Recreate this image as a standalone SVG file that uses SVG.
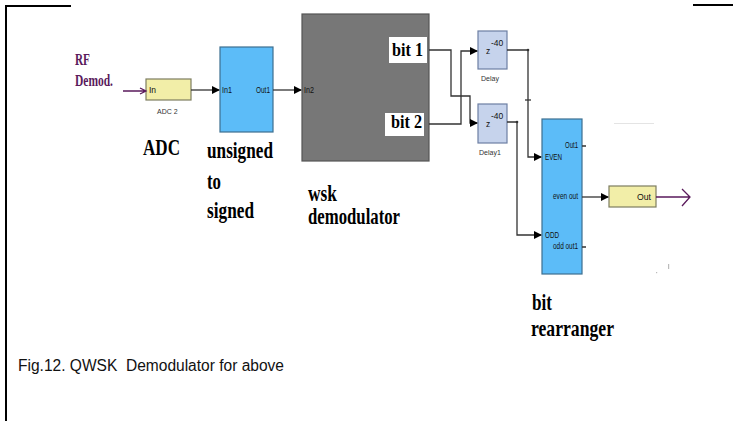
<svg xmlns="http://www.w3.org/2000/svg" width="733" height="421" viewBox="0 0 733 421">
<style>
.bd{fill:none;stroke:#000;stroke-width:2}
.w{fill:none;stroke:#333;stroke-width:1.3}
.p{fill:none;stroke:#5a1a5c;stroke-width:1.3}
.blue{fill:#5cbcf8;stroke:#3d6f90;stroke-width:1.2}
.yel{fill:#f2eea8;stroke:#7d7d60;stroke-width:1.2}
.dly{fill:#c6d3ec;stroke:#6d7fa3;stroke-width:1.2}
.sm{font-family:"Liberation Sans",Arial,sans-serif;font-size:8.5px;fill:#111}
.gl{font-family:"Liberation Sans",Arial,sans-serif;font-size:7px;fill:#333}
.lbl{font-family:"Liberation Serif","Times New Roman",serif;font-weight:bold;font-size:23px;fill:#000}
.bit{font-family:"Liberation Serif","Times New Roman",serif;font-weight:bold;font-size:18px;fill:#000}
.rf{font-family:"Liberation Serif","Times New Roman",serif;font-weight:bold;font-size:17px;fill:#5a1a5c}
.cap{font-family:"Liberation Sans",Arial,sans-serif;font-size:16px;fill:#111;white-space:pre}
</style>
<defs>
<marker id="ah" markerWidth="8" markerHeight="8" refX="7" refY="4" orient="auto" markerUnits="userSpaceOnUse">
<path d="M0,0 L8,4 L0,8 Z" fill="#000"/>
</marker>
</defs>
<rect width="733" height="421" fill="#fff"/>
<g id="border">
<path class="bd" d="M71,6 H6 V421"/>
<path class="bd" d="M693,5 H733"/>
</g>
<g id="rf-label">
<text class="rf" x="75" y="65" textLength="15" lengthAdjust="spacingAndGlyphs">RF</text>
<text class="rf" x="75" y="86" textLength="38" lengthAdjust="spacingAndGlyphs">Demod.</text>
</g>
<g id="adc">
<rect class="yel" x="146" y="79" width="45" height="21"/>
<text class="sm" x="149" y="93">In</text>
<text class="gl" x="157" y="114">ADC 2</text>
<text class="lbl" x="143" y="155" textLength="37" lengthAdjust="spacingAndGlyphs">ADC</text>
</g>
<g id="unsigned">
<rect class="blue" x="220" y="47" width="53" height="85"/>
<text class="sm" x="222" y="93" textLength="10" lengthAdjust="spacingAndGlyphs">In1</text>
<text class="sm" x="270" y="93" text-anchor="end" textLength="14" lengthAdjust="spacingAndGlyphs">Out1</text>
<text class="lbl" x="207" y="158" textLength="66" lengthAdjust="spacingAndGlyphs">unsigned</text>
<text class="lbl" x="207" y="189" textLength="14" lengthAdjust="spacingAndGlyphs">to</text>
<text class="lbl" x="207" y="218" textLength="47" lengthAdjust="spacingAndGlyphs">signed</text>
</g>
<g id="wsk">
<rect x="302" y="14" width="127" height="147" fill="#777" stroke="#555" stroke-width="1.2"/>
<text class="sm" x="304" y="93" textLength="10" lengthAdjust="spacingAndGlyphs">In2</text>
<rect x="389" y="37" width="38" height="26" fill="#fff"/>
<text class="bit" x="392" y="56" textLength="31" lengthAdjust="spacingAndGlyphs">bit 1</text>
<rect x="385" y="113" width="39" height="23" fill="#fff"/>
<text class="bit" x="391" y="128" textLength="31" lengthAdjust="spacingAndGlyphs">bit 2</text>
<text class="lbl" x="308" y="201" textLength="29" lengthAdjust="spacingAndGlyphs">wsk</text>
<text class="lbl" x="308" y="224" textLength="92" lengthAdjust="spacingAndGlyphs">demodulator</text>
</g>
<g id="delay">
<rect class="dly" x="478" y="31" width="29" height="38"/>
<text class="sm" x="486" y="54" font-size="9">z</text>
<text class="sm" x="491" y="46" font-size="6">-40</text>
<text class="gl" x="481" y="81">Delay</text>
</g>
<g id="delay1">
<rect class="dly" x="478" y="104" width="29" height="39"/>
<text class="sm" x="486" y="127" font-size="9">z</text>
<text class="sm" x="491" y="119" font-size="6">-40</text>
<text class="gl" x="479" y="155">Delay1</text>
</g>
<g id="rearranger">
<rect class="blue" x="542" y="119" width="40" height="155"/>
<text class="sm" x="578" y="148" text-anchor="end" textLength="13" lengthAdjust="spacingAndGlyphs">Out1</text>
<text class="sm" x="545" y="160" textLength="17" lengthAdjust="spacingAndGlyphs">EVEN</text>
<text class="sm" x="578" y="199" text-anchor="end" textLength="25" lengthAdjust="spacingAndGlyphs">even out</text>
<text class="sm" x="545" y="238" textLength="14" lengthAdjust="spacingAndGlyphs">ODD</text>
<text class="sm" x="578" y="249" text-anchor="end" textLength="25" lengthAdjust="spacingAndGlyphs">odd out1</text>
<path class="w" d="M582,146 H586 M582,247 H586"/>
<text class="lbl" x="532" y="310" textLength="20" lengthAdjust="spacingAndGlyphs">bit</text>
<text class="lbl" x="531" y="336" textLength="83" lengthAdjust="spacingAndGlyphs">rearranger</text>
</g>
<g id="out">
<rect class="yel" x="609" y="186" width="47" height="21"/>
<text class="sm" x="637" y="200" textLength="14" lengthAdjust="spacingAndGlyphs">Out</text>
</g>
<g id="connectors">
<path class="p" d="M123,91 H146 M140,88 L146,91 L140,94"/>
<path class="w" d="M191,90 H219" marker-end="url(#ah)"/>
<path class="w" d="M273,90 H301" marker-end="url(#ah)"/>
<path class="w" d="M429,50 H451 V96 H470 V123 H477" marker-end="url(#ah)"/>
<path class="w" d="M429,124 H461 V51 H477" marker-end="url(#ah)"/>
<path class="w" d="M507,50 H528 V157 H541" marker-end="url(#ah)"/>
<circle cx="528" cy="50" r="1.3" fill="#333"/>
<path class="w" d="M525,100 H531"/>
<path class="w" d="M507,122 H517 V235 H541" marker-end="url(#ah)"/>
<circle cx="517" cy="122" r="1.3" fill="#333"/>
<path class="w" d="M582,197 H608" marker-end="url(#ah)"/>
<path class="p" d="M656,197 H690 M682,189 L690,197 L682,206"/>
</g>
<g id="specks" fill="#bbb">
<rect x="614" y="123" width="40" height="1" opacity="0.4"/>
<rect x="656" y="272" width="1.2" height="1.2"/>
<rect x="668" y="264" width="1.2" height="5"/>
</g>
<text class="cap" x="18" y="371" textLength="266" lengthAdjust="spacingAndGlyphs" xml:space="preserve">Fig.12. QWSK  Demodulator for above</text>
</svg>
